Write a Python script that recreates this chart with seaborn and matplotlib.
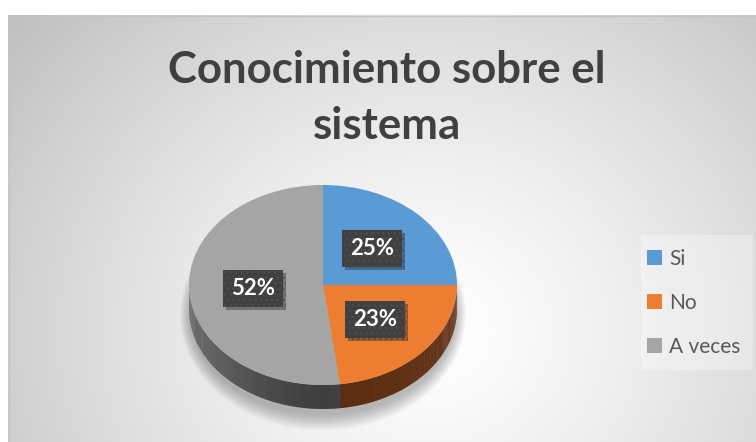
import matplotlib
matplotlib.use('Agg')
import matplotlib.pyplot as plt
import matplotlib.patheffects as pe
from matplotlib.patches import Polygon, Ellipse, Rectangle
import seaborn as sns
import numpy as np

# data
categories = ['Si', 'No', 'A veces']
values = [25, 23, 52]
title_lines = ['Conocimiento sobre el', 'sistema']

sns.set_style('white')
plt.rcParams['font.family'] = ['Lato', 'DejaVu Sans']

top_colors = sns.color_palette(['#5B9BD5', '#ED7D31', '#A5A5A5'])
side_light = ['#3f6e99', '#66351a', '#6c6c6c']
side_dark = ['#2f5478', '#5a2d10', '#3f3f3f']

W, H = 756, 442
fig = plt.figure(figsize=(W / 100, H / 100), dpi=100)

# background with radial gradient (chart area)
bg = fig.add_axes([0, 0, 1, 1])
bg.set_xlim(0, W)
bg.set_ylim(H, 0)
bg.axis('off')
yy, xx = np.mgrid[15:H, 8:W]
d = np.hypot(xx - 430, (yy - 330) * 1.1) / 540
val = np.clip(1 - 0.25 * d ** 1.3, 0, 1)
bg.imshow(np.dstack([val, val, val]), extent=(8, W, H, 15), aspect='auto', zorder=0)
bg.plot([8, W], [15.5, 15.5], color='#c4c4c4', lw=1, zorder=1)
bg.plot([8.5, 8.5], [15, H], color='#c4c4c4', lw=1, zorder=1)
bg.add_patch(Rectangle((641, 235), 112, 135, facecolor='white', alpha=0.3,
                       edgecolor='none', zorder=1))

# title
for y, line in zip([83, 139], title_lines):
    bg.text(387, y, line, ha='center', va='baseline', fontsize=31.5,
            fontweight='bold', color='#404040', zorder=3)

# pie geometry (pixels)
cx, cy, rx, ry, depth = 323, 285, 134, 100, 24
L = 1.5
ax = fig.add_axes([(cx - L * rx) / W, 1 - (cy + L * ry) / H, 2 * L * rx / W, 2 * L * ry / H])
ax.patch.set_alpha(0)

wedges, texts, autotexts = ax.pie(
    values, colors=top_colors, startangle=90, counterclock=False,
    autopct='%.0f%%', pctdistance=0.52,
    textprops=dict(color='white', fontsize=16, fontweight='bold'),
    wedgeprops=dict(linewidth=0))
ax.set_aspect('auto')
ax.set_xlim(-L, L)
ax.set_ylim(-L, L)
ax.axis('off')

dd = depth / ry

# soft shadow under the pie
for k in range(14):
    ax.add_patch(Ellipse((0, -dd - 0.06), 2 * (0.99 + 0.006 * k), 2 * (1.0 + 0.012 * k),
                         facecolor='black', alpha=0.018, edgecolor='none', zorder=0.2))

# 3d side of the pie
total = sum(values)
cum = np.cumsum([0] + values)
for i in range(len(values)):
    t1 = 90 - 360 * cum[i] / total
    t2 = 90 - 360 * cum[i + 1] / total
    lo, hi = max(t2, -180), min(t1, 0)
    if lo >= hi:
        continue
    angs = np.linspace(lo, hi, 80)
    c_l = np.array(matplotlib.colors.to_rgb(side_light[i]))
    c_d = np.array(matplotlib.colors.to_rgb(side_dark[i]))
    for a0, a1 in zip(angs[:-1], angs[1:]):
        r0, r1 = np.radians(a0), np.radians(a1 + 0.3)
        pts = [(np.cos(r0), np.sin(r0)), (np.cos(r1), np.sin(r1)),
               (np.cos(r1), np.sin(r1) - dd), (np.cos(r0), np.sin(r0) - dd)]
        f = abs(np.cos(np.radians((a0 + a1) / 2))) ** 1.5
        ax.add_patch(Polygon(pts, closed=True, facecolor=c_d + (c_l - c_d) * f,
                             edgecolor='none', zorder=0.5))

# label boxes
for t in autotexts:
    t.set_bbox(dict(boxstyle='square,pad=0.36', facecolor='#404040',
                    edgecolor='#4d4d4d', hatch='...', linewidth=0))
    t.get_bbox_patch().set_path_effects([pe.SimplePatchShadow(offset=(2, -2), alpha=0.35),
                                         pe.Normal()])
    t.set_zorder(5)

# legend
bg.legend(wedges, categories, loc='center left', bbox_to_anchor=(647 / W, 1 - 303 / H),
          bbox_transform=fig.transFigure, frameon=False, fontsize=15,
          labelcolor='#595959', handlelength=0.7, handleheight=0.7,
          handletextpad=0.35, labelspacing=1.15, borderpad=0, borderaxespad=0)

plt.savefig('out.png', dpi=100)
plt.close()
